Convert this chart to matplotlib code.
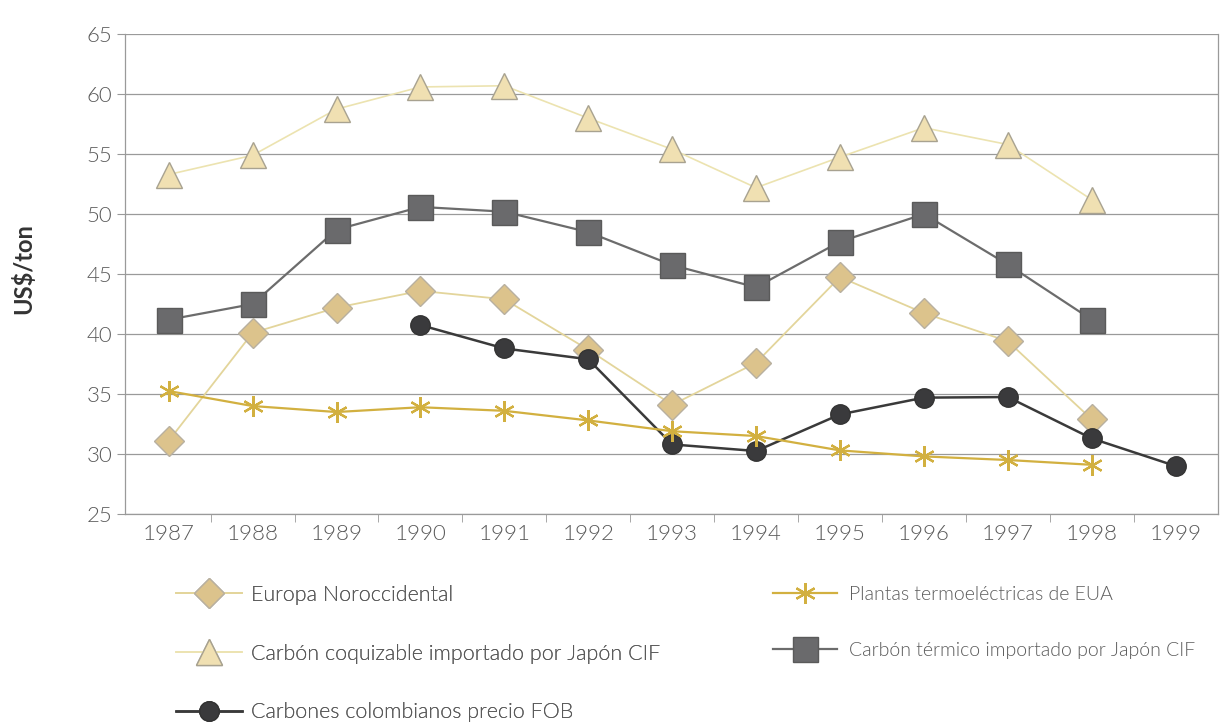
import matplotlib.pyplot as plt
import numpy as np

plt.rcParams['font.family'] = ['Lato', 'DejaVu Sans']

anios = [1987, 1988, 1989, 1990, 1991, 1992, 1993, 1994, 1995, 1996, 1997, 1998, 1999]

europa = [31.1, 40.1, 42.2, 43.6, 42.9, 38.7, 34.1, 37.6, 44.75, 41.75, 39.4, 32.9]
coquizable = [53.3, 54.9, 58.75, 60.6, 60.7, 58.0, 55.4, 52.2, 54.75, 57.2, 55.8, 51.2]
colombia_anios = [1990, 1991, 1992, 1993, 1994, 1995, 1996, 1997, 1998, 1999]
colombia = [40.75, 38.8, 37.9, 30.8, 30.25, 33.3, 34.7, 34.75, 31.3, 29.0]
eua = [35.25, 34.0, 33.5, 33.9, 33.6, 32.8, 31.9, 31.5, 30.3, 29.8, 29.5, 29.1]
termico = [41.2, 42.5, 48.7, 50.6, 50.2, 48.5, 45.75, 43.9, 47.7, 50.0, 45.8, 41.2]

nombres = ['Europa Noroccidental',
           'Carbón coquizable importado por Japón CIF',
           'Carbones colombianos precio FOB',
           'Plantas termoeléctricas de EUA',
           'Carbón térmico importado por Japón CIF']

gris_txt = '#5a5a5a'

fig = plt.figure(figsize=(12.2, 7.27), dpi=100)
ax = fig.add_axes([0.1025, 0.293, 0.8955, 0.66])

x12 = anios[:12]
l_coq, = ax.plot(x12, coquizable, color='#ece3b0', lw=1.2, marker='^', ms=19,
                 mfc='#f0e0b2', mec='#a8a290', mew=1.0, zorder=3)
l_ter, = ax.plot(x12, termico, color='#6c6c6c', lw=1.6, marker='s', ms=18,
                 mfc='#6a6a6c', mec='#5a5a5a', mew=1.0, zorder=4)
l_eur, = ax.plot(x12, europa, color='#e3d59b', lw=1.3, marker='D', ms=15,
                 mfc='#dcc38c', mec='#b8b0a0', mew=1.0, zorder=5)
l_col, = ax.plot(colombia_anios, colombia, color='#3a3a3a', lw=1.8, marker='o', ms=14,
                 mfc='#3a3a3c', mec='#333333', zorder=6)
l_eua, = ax.plot(x12, eua, color='#d2b040', lw=1.6, marker=(6, 2, 0), ms=15,
                 mec='#d2b040', mew=1.6, zorder=7)

ax.set_xlim(1986.48, 1999.5)
ax.set_ylim(25, 65)
ax.set_yticks(np.arange(25, 66, 5))
ax.set_xticks(anios)
ax.set_xticks(np.arange(1987.5, 1999.5, 1), minor=True)
ax.tick_params(axis='x', which='major', length=0, pad=7, labelsize=16, labelcolor=gris_txt)
ax.tick_params(axis='x', which='minor', length=6, color='#999999', direction='out')
ax.tick_params(axis='y', length=6, color='#999999', pad=3, labelsize=16, labelcolor=gris_txt)
for lab in ax.get_xticklabels() + ax.get_yticklabels():
    lab.set_fontweight(300)

ax.grid(axis='y', color='#9a9a9a', lw=0.9)
ax.set_axisbelow(True)
for s in ax.spines.values():
    s.set_color('#9a9a9a')
    s.set_linewidth(0.9)
ax.spines['top'].set_visible(False)

fig.text(0.019, 0.63, 'US$/ton', rotation=90, ha='center', va='center',
         fontsize=17, fontweight='bold', color='#333333')

izq = [l_eur, l_coq, l_col]
der = [l_eua, l_ter]
leg1 = fig.legend(izq, nombres[:3], loc='upper left', bbox_to_anchor=(0.128, 0.222),
                  frameon=False, labelspacing=1.8, handlelength=3.1,
                  handletextpad=0.4, labelcolor=gris_txt,
                  prop={'size': 15.5, 'weight': 300})
leg2 = fig.legend(der, nombres[3:], loc='upper left', bbox_to_anchor=(0.619, 0.218),
                  frameon=False, labelspacing=2.0, handlelength=3.3,
                  handletextpad=0.6, labelcolor=gris_txt,
                  prop={'size': 14, 'weight': 300})
fig.add_artist(leg1)

fig.savefig('out.png', dpi=100)
